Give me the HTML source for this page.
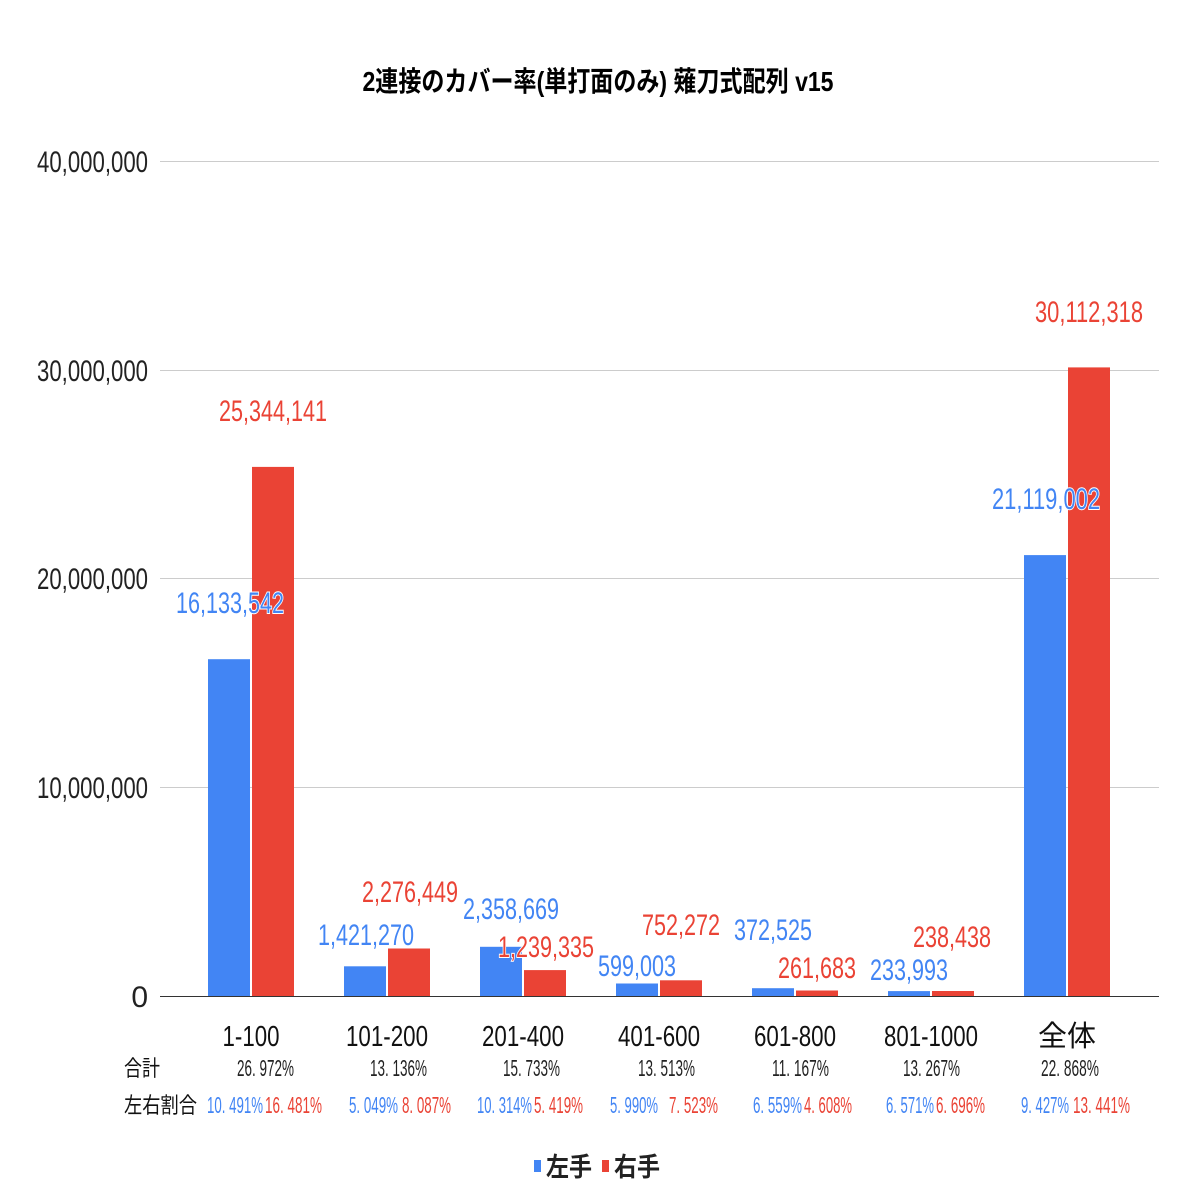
<!DOCTYPE html>
<html><head><meta charset="utf-8"><style>
html,body{margin:0;padding:0;background:#fff}
svg text{font-family:"Liberation Sans Narrow","Liberation Sans","Noto Sans CJK JP",sans-serif}
.v{font-size:30px;paint-order:stroke;stroke:#fff;stroke-width:2px}
.b{fill:#4285f4}.r{fill:#ea4335}
</style></head><body>
<svg width="1196" height="1196" xmlns="http://www.w3.org/2000/svg">
<rect width="1196" height="1196" fill="#fff"/>
<text x="598" y="91" text-anchor="middle" font-size="28" font-weight="bold" textLength="471" lengthAdjust="spacingAndGlyphs" fill="#000">2連接のカバー率(単打面のみ) 薙刀式配列 v15</text>
<g stroke="#ccc" stroke-width="1">
<line x1="160" y1="161.5" x2="1159" y2="161.5"/>
<line x1="160" y1="370.5" x2="1159" y2="370.5"/>
<line x1="160" y1="578.5" x2="1159" y2="578.5"/>
<line x1="160" y1="787.5" x2="1159" y2="787.5"/>
</g>
<g font-size="30" fill="#222" text-anchor="end">
<text x="148" y="172" textLength="111" lengthAdjust="spacingAndGlyphs">40,000,000</text>
<text x="148" y="381" textLength="111" lengthAdjust="spacingAndGlyphs">30,000,000</text>
<text x="148" y="589" textLength="111" lengthAdjust="spacingAndGlyphs">20,000,000</text>
<text x="148" y="798" textLength="111" lengthAdjust="spacingAndGlyphs">10,000,000</text>
<text x="148" y="1007">0</text>
</g>
<g>
<rect class="b" x="208" y="659.2" width="42" height="336.8"/>
<rect class="r" x="252" y="466.9" width="42" height="529.1"/>
<rect class="b" x="344" y="966.3" width="42" height="29.7"/>
<rect class="r" x="388" y="948.5" width="42" height="47.5"/>
<rect class="b" x="480" y="946.8" width="42" height="49.2"/>
<rect class="r" x="524" y="970.1" width="42" height="25.9"/>
<rect class="b" x="616" y="983.5" width="42" height="12.5"/>
<rect class="r" x="660" y="980.3" width="42" height="15.7"/>
<rect class="b" x="752" y="988.2" width="42" height="7.8"/>
<rect class="r" x="796" y="990.5" width="42" height="5.5"/>
<rect class="b" x="888" y="991.1" width="42" height="4.9"/>
<rect class="r" x="932" y="991" width="42" height="5"/>
<rect class="b" x="1024" y="555.1" width="42" height="440.9"/>
<rect class="r" x="1068" y="367.4" width="42" height="628.6"/>
</g>
<line x1="160" y1="996.5" x2="1159" y2="996.5" stroke="#333" stroke-width="1"/>
<g text-anchor="middle">
<text class="v b" x="230" y="613" textLength="108" lengthAdjust="spacingAndGlyphs">16,133,542</text>
<text class="v r" x="273" y="421" textLength="108" lengthAdjust="spacingAndGlyphs">25,344,141</text>
<text class="v b" x="366" y="945" textLength="96" lengthAdjust="spacingAndGlyphs">1,421,270</text>
<text class="v r" x="410" y="902" textLength="96" lengthAdjust="spacingAndGlyphs">2,276,449</text>
<text class="v b" x="511" y="919" textLength="96" lengthAdjust="spacingAndGlyphs">2,358,669</text>
<text class="v r" x="546" y="957" textLength="96" lengthAdjust="spacingAndGlyphs">1,239,335</text>
<text class="v b" x="637" y="976" textLength="78" lengthAdjust="spacingAndGlyphs">599,003</text>
<text class="v r" x="681" y="935" textLength="78" lengthAdjust="spacingAndGlyphs">752,272</text>
<text class="v b" x="773" y="940" textLength="78" lengthAdjust="spacingAndGlyphs">372,525</text>
<text class="v r" x="817" y="978" textLength="78" lengthAdjust="spacingAndGlyphs">261,683</text>
<text class="v b" x="909" y="980" textLength="78" lengthAdjust="spacingAndGlyphs">233,993</text>
<text class="v r" x="952" y="947" textLength="78" lengthAdjust="spacingAndGlyphs">238,438</text>
<text class="v b" x="1046" y="509" textLength="108" lengthAdjust="spacingAndGlyphs">21,119,002</text>
<text class="v r" x="1089" y="322" textLength="108" lengthAdjust="spacingAndGlyphs">30,112,318</text>
</g>
<g text-anchor="middle" font-size="29" fill="#111">
<text x="251" y="1046" textLength="57" lengthAdjust="spacingAndGlyphs">1-100</text>
<text x="387" y="1046" textLength="82" lengthAdjust="spacingAndGlyphs">101-200</text>
<text x="523" y="1046" textLength="82" lengthAdjust="spacingAndGlyphs">201-400</text>
<text x="659" y="1046" textLength="82" lengthAdjust="spacingAndGlyphs">401-600</text>
<text x="795" y="1046" textLength="82" lengthAdjust="spacingAndGlyphs">601-800</text>
<text x="931" y="1046" textLength="94" lengthAdjust="spacingAndGlyphs">801-1000</text>
<text x="1067" y="1046">全体</text>
</g>
<g font-size="22" fill="#111">
<text x="124" y="1076" textLength="36" lengthAdjust="spacingAndGlyphs">合計</text>
<text x="124" y="1113" textLength="73" lengthAdjust="spacingAndGlyphs">左右割合</text>
</g>
<g font-size="23" fill="#222">
<text x="237" y="1076" textLength="57" lengthAdjust="spacingAndGlyphs">26. 972%</text>
<text x="370" y="1076" textLength="57" lengthAdjust="spacingAndGlyphs">13. 136%</text>
<text x="503" y="1076" textLength="57" lengthAdjust="spacingAndGlyphs">15. 733%</text>
<text x="638" y="1076" textLength="57" lengthAdjust="spacingAndGlyphs">13. 513%</text>
<text x="772" y="1076" textLength="57" lengthAdjust="spacingAndGlyphs">11. 167%</text>
<text x="903" y="1076" textLength="57" lengthAdjust="spacingAndGlyphs">13. 267%</text>
<text x="1041" y="1076" textLength="58" lengthAdjust="spacingAndGlyphs">22. 868%</text>
</g>
<g font-size="23">
<text class="b" x="207" y="1113" textLength="56" lengthAdjust="spacingAndGlyphs">10. 491%</text>
<text class="r" x="265" y="1113" textLength="57" lengthAdjust="spacingAndGlyphs">16. 481%</text>
<text class="b" x="349" y="1113" textLength="49" lengthAdjust="spacingAndGlyphs">5. 049%</text>
<text class="r" x="402" y="1113" textLength="49" lengthAdjust="spacingAndGlyphs">8. 087%</text>
<text class="b" x="477" y="1113" textLength="55" lengthAdjust="spacingAndGlyphs">10. 314%</text>
<text class="r" x="534" y="1113" textLength="49" lengthAdjust="spacingAndGlyphs">5. 419%</text>
<text class="b" x="610" y="1113" textLength="48" lengthAdjust="spacingAndGlyphs">5. 990%</text>
<text class="r" x="669" y="1113" textLength="49" lengthAdjust="spacingAndGlyphs">7. 523%</text>
<text class="b" x="753" y="1113" textLength="49" lengthAdjust="spacingAndGlyphs">6. 559%</text>
<text class="r" x="804" y="1113" textLength="48" lengthAdjust="spacingAndGlyphs">4. 608%</text>
<text class="b" x="886" y="1113" textLength="48" lengthAdjust="spacingAndGlyphs">6. 571%</text>
<text class="r" x="936" y="1113" textLength="49" lengthAdjust="spacingAndGlyphs">6. 696%</text>
<text class="b" x="1021" y="1113" textLength="48" lengthAdjust="spacingAndGlyphs">9. 427%</text>
<text class="r" x="1073" y="1113" textLength="57" lengthAdjust="spacingAndGlyphs">13. 441%</text>
</g>
<rect class="b" x="534" y="1160" width="7" height="12"/>
<text x="546" y="1176" font-size="26" font-weight="bold" fill="#222" textLength="46" lengthAdjust="spacingAndGlyphs">左手</text>
<rect class="r" x="602" y="1160" width="7" height="12"/>
<text x="614" y="1176" font-size="26" font-weight="bold" fill="#222" textLength="46" lengthAdjust="spacingAndGlyphs">右手</text>
</svg>
</body></html>
